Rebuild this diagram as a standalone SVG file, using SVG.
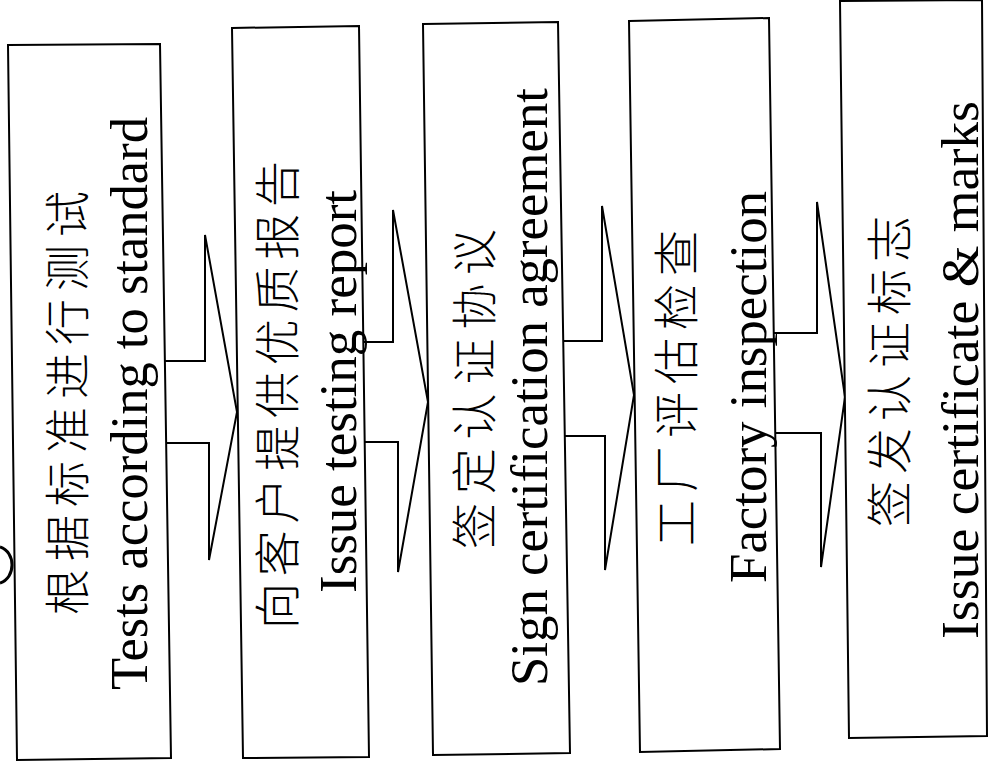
<svg xmlns="http://www.w3.org/2000/svg" width="988" height="766" viewBox="0 0 988 766">
<style>
.box{fill:#fff;stroke:#000;stroke-width:2;stroke-linejoin:miter}
.arr{fill:#fff;stroke:#000;stroke-width:2;stroke-linejoin:miter}
.en{font-family:"Liberation Serif","Times New Roman",serif;font-size:53px;fill:#000}
.zh{font-family:"Noto Sans CJK SC","Liberation Serif",sans-serif;font-size:46px;font-weight:300;fill:#000}
</style>
<rect width="988" height="766" fill="#fff"/>
<g id="connectors">
<polygon class="arr" points="150,361 205,361 205,235 237,412 209,560 209,443 150,443"/>
<polygon class="arr" points="355,342 393,342 393,210 428,402 398,572 398,442 355,442"/>
<polygon class="arr" points="555,341 602,341 602,206 634,395 605,570 605,436 555,436"/>
<polygon class="arr" points="765,333 817,333 817,202 845,397 821,567 821,433 765,433"/>
</g>
<g id="node1">
<polygon class="box" points="8,45 160,44 171,758 17,760"/>
<text class="zh" transform="translate(84,615) rotate(-90)" textLength="424" lengthAdjust="spacing">根据标准进行测试</text>
<text class="en" transform="translate(147,690) rotate(-90)" textLength="573" lengthAdjust="spacingAndGlyphs">Tests according to standard</text>
</g>
<g id="node2">
<polygon class="box" points="232,28 359,26 369,757 243,758"/>
<text class="zh" transform="translate(294,629) rotate(-90)" textLength="468" lengthAdjust="spacing">向客户提供优质报告</text>
<text class="en" transform="translate(356,593) rotate(-90)" textLength="403" lengthAdjust="spacingAndGlyphs">Issue testing report</text>
</g>
<g id="node3">
<polygon class="box" points="423,24 558,22 570,753 433,755"/>
<text class="zh" transform="translate(491,549) rotate(-90)" textLength="320" lengthAdjust="spacing">签定认证协议</text>
<text class="en" transform="translate(547,686) rotate(-90)" textLength="598" lengthAdjust="spacingAndGlyphs">Sign certification agreement</text>
</g>
<g id="node4">
<polygon class="box" points="629,21 769,18 780,749 640,752"/>
<text class="zh" transform="translate(693,546) rotate(-90)" textLength="316" lengthAdjust="spacing">工厂评估检查</text>
<text class="en" transform="translate(766,583) rotate(-90)" textLength="392" lengthAdjust="spacingAndGlyphs">Factory inspection</text>
</g>
<g id="node5">
<polygon class="box" points="840,1 982,0 987,736 849,738"/>
<text class="zh" transform="translate(906,527) rotate(-90)" textLength="311" lengthAdjust="spacing">签发认证标志</text>
<text class="en" transform="translate(978,639) rotate(-90)" textLength="538" lengthAdjust="spacingAndGlyphs">Issue certificate &amp; marks</text>
</g>
<path d="M0,547 C16,552 16,578 0,583" fill="none" stroke="#000" stroke-width="3"/>
</svg>
